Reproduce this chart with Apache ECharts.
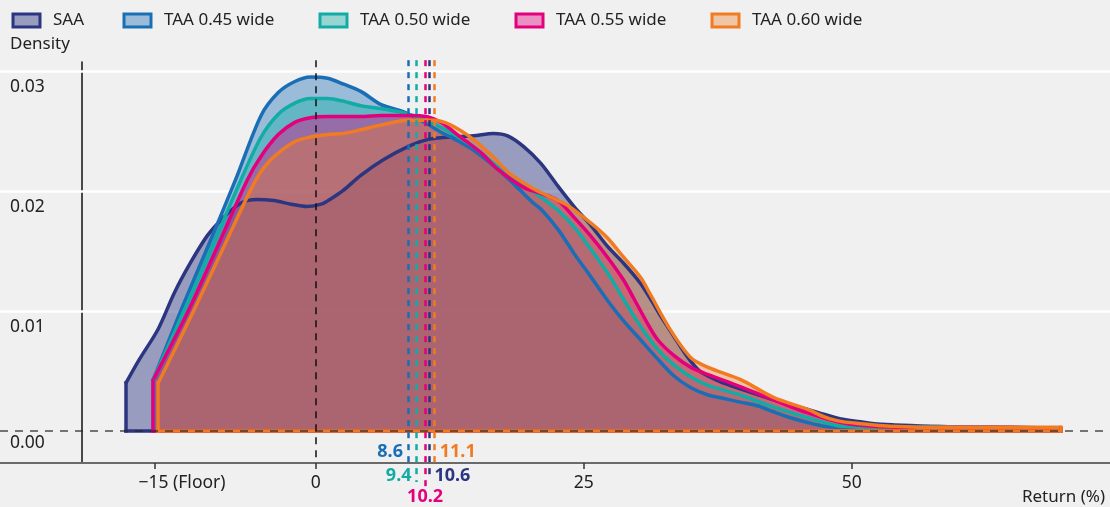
<!DOCTYPE html>
<html><head><meta charset="utf-8">
<script src="https://cdn.jsdelivr.net/npm/echarts@6/dist/echarts.min.js"></script>
<style>html,body{margin:0;padding:0;background:#f0f0f0}#c{width:1110px;height:507px}</style>
</head><body><div id="c"></div>
<script>
// ---------------- data ----------------
const seriesNames = ['SAA', 'TAA 0.45 wide', 'TAA 0.50 wide', 'TAA 0.55 wide', 'TAA 0.60 wide'];

const saa = [[-17.7,0.0040],[-16.5,0.0059],[-14.7,0.0085],[-13.2,0.0115],[-11.7,0.0140],[-10.1,0.0163],[-8.6,0.0178],[-7.0,0.0190],[-5.5,0.0193],[-3.9,0.0192],[-2.3,0.0189],[-0.8,0.0187],[0.5,0.0189],[1.5,0.0194],[2.5,0.0200],[4.2,0.0213],[6.3,0.0226],[8.6,0.0237],[10.5,0.0243],[12.6,0.0245],[14.7,0.0246],[16.6,0.0248],[17.9,0.0246],[19.4,0.0237],[21.0,0.0223],[22.6,0.0204],[24.1,0.0187],[25.7,0.0171],[27.2,0.0154],[28.7,0.0140],[30.3,0.0123],[31.3,0.0109],[32.3,0.0094],[33.4,0.0079],[34.5,0.0064],[35.8,0.0050],[37.5,0.0042],[39.6,0.0035],[42.7,0.0026],[45.9,0.0018],[47.4,0.0014],[49.0,0.0010],[50.6,0.0008],[52.1,0.0006],[54.0,0.0005],[57.0,0.0004],[61.0,0.0003],[65.0,0.0003],[69.5,0.0002]];

const taa45 = [[-15.2,0.0042],[-12.6,0.0100],[-10.0,0.0155],[-7.5,0.0209],[-5.1,0.0263],[-3.5,0.0282],[-2.0,0.0291],[-0.5,0.0295],[1.1,0.0294],[2.6,0.0289],[4.2,0.0283],[6.1,0.0272],[8.2,0.0266],[10.0,0.0258],[11.7,0.0249],[13.2,0.0242],[14.7,0.0234],[17.0,0.0218],[18.8,0.0203],[20.3,0.0190],[21.0,0.0185],[22.6,0.0168],[24.1,0.0148],[25.7,0.0128],[27.2,0.0109],[28.7,0.0092],[30.3,0.0076],[31.9,0.0060],[33.4,0.0046],[35.0,0.0036],[36.6,0.0030],[38.1,0.0027],[39.6,0.0024],[41.2,0.0021],[42.7,0.0016],[44.3,0.0011],[45.9,0.0007],[47.4,0.0004],[49.0,0.0003],[53.0,0.0002],[58.0,0.0002],[64.0,0.0002],[69.5,0.0002]];

const taa50 = [[-15.2,0.0042],[-12.3,0.0100],[-9.6,0.0155],[-7.0,0.0209],[-5.1,0.0245],[-3.5,0.0264],[-2.0,0.0273],[-0.5,0.0277],[1.1,0.0277],[2.5,0.0275],[4.2,0.0271],[5.8,0.0269],[8.2,0.0265],[10.0,0.0260],[11.7,0.0253],[14.7,0.0237],[17.0,0.0220],[19.4,0.0205],[21.0,0.0195],[22.6,0.0184],[24.1,0.0170],[25.7,0.0151],[27.2,0.0132],[28.7,0.0110],[30.3,0.0087],[31.9,0.0068],[33.4,0.0055],[35.0,0.0045],[36.6,0.0038],[39.6,0.0030],[42.7,0.0020],[45.9,0.0011],[49.0,0.0004],[53.0,0.0003],[57.0,0.0004],[62.0,0.0003],[69.5,0.0002]];

const taa55 = [[-15.2,0.0042],[-11.9,0.0100],[-9.1,0.0155],[-6.4,0.0209],[-5.1,0.0229],[-3.5,0.0247],[-2.0,0.0257],[-0.5,0.0261],[1.1,0.0262],[2.6,0.0262],[4.2,0.0262],[6.1,0.0263],[8.6,0.0263],[10.4,0.0262],[11.7,0.0257],[13.5,0.0245],[15.4,0.0232],[17.0,0.0218],[19.4,0.0203],[21.0,0.0198],[22.6,0.0192],[24.1,0.0178],[25.7,0.0162],[27.2,0.0145],[28.7,0.0126],[29.7,0.0110],[30.8,0.0092],[31.9,0.0076],[33.4,0.0063],[35.0,0.0053],[36.6,0.0047],[39.6,0.0037],[42.7,0.0026],[45.9,0.0015],[49.0,0.0007],[52.0,0.0004],[57.0,0.0003],[63.0,0.0003],[69.5,0.0002]];

const taa60 = [[-14.7,0.0040],[-11.4,0.0100],[-8.5,0.0155],[-5.6,0.0209],[-4.2,0.0226],[-2.0,0.0241],[-0.5,0.0245],[1.1,0.0247],[2.6,0.0248],[4.2,0.0251],[6.1,0.0255],[8.6,0.0259],[11.0,0.0259],[12.6,0.0255],[14.7,0.0243],[16.6,0.0228],[17.9,0.0216],[20.1,0.0203],[21.9,0.0195],[23.5,0.0188],[25.7,0.0173],[27.2,0.0161],[28.7,0.0145],[30.3,0.0128],[31.2,0.0114],[33.1,0.0084],[35.0,0.0061],[36.6,0.0053],[39.6,0.0043],[42.7,0.0028],[45.9,0.0018],[47.4,0.0012],[49.0,0.0008],[52.1,0.0005],[53.6,0.0004],[58.0,0.0003],[64.0,0.0003],[69.5,0.0003]];

const medians = [10.6, 8.6, 9.4, 10.2, 11.1];   // SAA, 0.45, 0.50, 0.55, 0.60

const xTicks = [-15, 0, 25, 50];
const xTickLabels = ['\u221215 (Floor)', '0', '25', '50'];
const yTicks = [0, 0.01, 0.02, 0.03];
const yTickLabels = ['0.00', '0.01', '0.02', '0.03'];

// ---------------- styling ----------------
const datasets = [saa, taa45, taa50, taa55, taa60];
const lineColors = ['#2c3580', '#1a6eb6', '#12aca6', '#e4007c', '#f07b22'];
const fillAlpha = [0.45, 0.4, 0.4, 0.4, 0.36];
function fade(hex, a) {
  const r = parseInt(hex.slice(1,3),16), g = parseInt(hex.slice(3,5),16), b = parseInt(hex.slice(5,7),16);
  return 'rgba(' + r + ',' + g + ',' + b + ',' + a + ')';
}
const FONT = 'Noto Sans';
const TXT = '#222';
const FS = 17;
const FS_TICK = 17.5;
const legendLeft = [11.5, 122.5, 318.5, 514.5, 710.5];

// axis ranges (same pixel scale in both grids)
const X_MIN = -29.46, X_MAX = 74.1;
const Y0_MIN = -0.00267, Y0_MAX = 0.03075;   // main grid (top 62, bottom 44)
const Y1_MIN = -0.00633, Y1_MAX = 0.03133;   // overlay grid (top 55, bottom 0)

// annotation layout (overlay grid units)
const medTop = 0.0309;
const medBottom = [-0.0037, -0.0027, -0.00425, -0.0048, -0.0027];
const medLabelY = [-0.00375, -0.00175, -0.00375, -0.0055, -0.00175];
const medLabelPos = ['right', 'left', 'left', 'inside', 'right'];

const series = [];

// white grid lines (under the fills)
series.push({
  type: 'line', xAxisIndex: 0, yAxisIndex: 0, data: [], silent: true,
  markLine: {
    silent: true, symbol: ['none', 'none'], z: 1, animation: false,
    label: { position: 'insideStartBottom', distance: [10, 7], color: TXT, fontSize: FS_TICK, fontFamily: FONT },
    data: yTicks.slice(1).map((v, i) => ({
      yAxis: v, label: { formatter: yTickLabels[i + 1] },
      lineStyle: { color: '#ffffff', width: 2.5, type: 'solid' }
    }))
  }
});

// fills
datasets.forEach((d, i) => {
  series.push({
    name: seriesNames[i], type: 'line', xAxisIndex: 0, yAxisIndex: 0, data: d,
    smooth: 0.3, symbol: 'none', showSymbol: false, z: 2, silent: true,
    lineStyle: { width: 0, opacity: 0 },
    areaStyle: { color: fade(lineColors[i], fillAlpha[i]), opacity: 1 },
    animation: false
  });
});

// strokes (on top of all fills) + closing edges
datasets.forEach((d, i) => {
  const x0 = d[0][0], y0 = d[0][1], xn = d[d.length - 1][0], yn = d[d.length - 1][1];
  series.push({
    name: seriesNames[i], type: 'line', xAxisIndex: 0, yAxisIndex: 0, data: d,
    smooth: 0.3, symbol: 'none', showSymbol: false, z: 3, silent: true,
    lineStyle: { color: lineColors[i], width: 3.5, cap: 'round', join: 'round' },
    itemStyle: { color: lineColors[i] },
    animation: false,
    markLine: {
      silent: true, symbol: ['none', 'none'], z: 4, animation: false,
      label: { show: false },
      lineStyle: { color: lineColors[i], width: 3.5, type: 'solid', cap: 'square' },
      data: [
        [{ coord: [x0, 0] }, { coord: [x0, y0] }],
        [{ coord: [x0, 0] }, { coord: [xn, 0] }],
        [{ coord: [xn, 0] }, { coord: [xn, yn] }]
      ]
    }
  });
});

// zero dashed line with its label
series.push({
  type: 'line', xAxisIndex: 0, yAxisIndex: 0, data: [], silent: true,
  markLine: {
    silent: true, symbol: ['none', 'none'], z: 5, animation: false,
    label: { position: 'insideStartBottom', distance: [10, 3], color: TXT, fontSize: FS_TICK, fontFamily: FONT },
    data: [{ yAxis: yTicks[0], label: { formatter: yTickLabels[0] },
      lineStyle: { color: 'rgba(40,40,40,0.62)', width: 2, type: [8, 7] } }]
  }
});

// median dashed lines + black zero-return line (overlay grid)
const medLines = medians.map((m, i) => [
  { coord: [m, medTop], lineStyle: { color: lineColors[i], width: 2.5, type: [6, 6] } },
  { coord: [m, medBottom[i]] }
]);
medLines.unshift([
  { coord: [0, medTop], lineStyle: { color: '#111', width: 1.5, type: [7, 6] } },
  { coord: [0, Y0_MIN] }
]);
series.push({
  type: 'scatter', xAxisIndex: 1, yAxisIndex: 1, data: [], silent: true,
  markLine: { silent: true, symbol: ['none', 'none'], z: 6, animation: false, label: { show: false }, data: medLines }
});

// median labels
series.push({
  type: 'scatter', xAxisIndex: 1, yAxisIndex: 1, symbolSize: 0, silent: true, z: 7, animation: false,
  itemStyle: { opacity: 1 },
  data: medians.map((m, i) => ({
    value: [m, medLabelY[i]],
    label: {
      show: true, position: medLabelPos[i], distance: 5, formatter: m.toFixed(1), opacity: 1,
      color: lineColors[i], fontSize: 18, fontWeight: 'bold', fontFamily: FONT
    }
  }))
});

const legends = seriesNames.map((n, i) => ({
  left: legendLeft[i], top: 12, padding: 0, icon: 'rect', itemWidth: 27, itemHeight: 13,
  textStyle: { fontSize: FS, color: TXT, fontFamily: FONT, padding: [0, 0, 0, 8] },
  selectedMode: false,
  data: [{ name: n, icon: 'rect',
    itemStyle: { color: fade(lineColors[i], fillAlpha[i]), borderColor: lineColors[i], borderWidth: 3 } }]
}));

const option = {
  backgroundColor: '#f0f0f0',
  animation: false,
  textStyle: { fontFamily: FONT },
  title: [
    { text: 'Density', left: 10, top: 36, padding: 0, textStyle: { fontSize: FS, fontWeight: 'normal', color: TXT, fontFamily: FONT } },
    { text: 'Return (%)', right: 5, bottom: 1, padding: 0, textStyle: { fontSize: FS, fontWeight: 'normal', color: TXT, fontFamily: FONT } }
  ],
  legend: legends,
  grid: [
    { left: 0, right: 0, top: 62, bottom: 44, containLabel: false },
    { left: 0, right: 0, top: 55, bottom: 0, containLabel: false }
  ],
  xAxis: [
    {
      type: 'value', gridIndex: 0, min: X_MIN, max: X_MAX,
      axisLine: { show: true, onZero: false, lineStyle: { color: '#6a6a6a', width: 2 } },
      axisTick: { show: true, customValues: xTicks, length: 6, lineStyle: { color: '#333', width: 1.5 } },
      axisLabel: {
        show: true, customValues: xTicks, margin: 11, color: TXT, fontSize: FS_TICK, fontFamily: FONT,
        formatter: function (v) {
          const k = xTicks.indexOf(v);
          const t = k >= 0 ? xTickLabels[k] : '';
          return k === 0 ? '{f|' + t + '}' : t;
        },
        rich: { f: { padding: [0, 0, 0, 54], fontSize: FS_TICK, color: TXT, fontFamily: FONT } }
      },
      splitLine: { show: false }
    },
    { type: 'value', gridIndex: 1, min: X_MIN, max: X_MAX, show: false, splitLine: { show: false } }
  ],
  yAxis: [
    {
      type: 'value', gridIndex: 0, min: Y0_MIN, max: Y0_MAX, offset: -82,
      axisLine: { show: true, onZero: false, lineStyle: { color: '#111', width: 1.5 } },
      axisTick: { show: false }, axisLabel: { show: false }, splitLine: { show: false }
    },
    { type: 'value', gridIndex: 1, min: Y1_MIN, max: Y1_MAX, show: false, splitLine: { show: false } }
  ],
  series: series
};

const chart = echarts.init(document.getElementById('c'), null, { renderer: 'canvas' });
chart.setOption(option);
</script></body></html>
